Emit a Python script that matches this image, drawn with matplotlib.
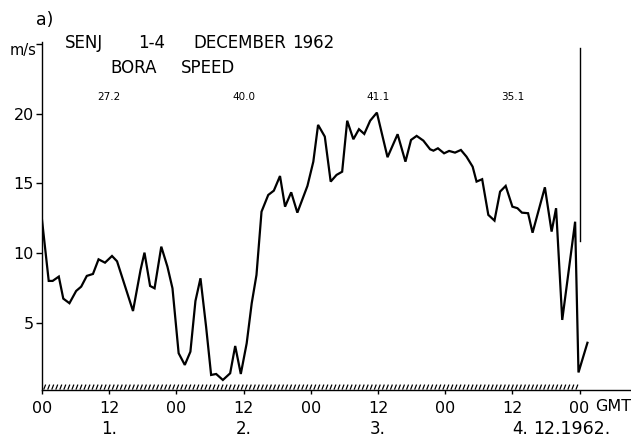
import numpy as np
import matplotlib.pyplot as plt
from matplotlib.collections import LineCollection

# Hourly wind speed at Senj, 1-4 December 1962 (hours from 00 GMT on the 1st)
hours = [0.0, 1.2, 1.9, 3.0, 3.8, 4.9, 6.1, 7.0, 8.0, 9.1, 10.1, 11.25, 12.5, 13.4,
         16.25, 17.6, 18.3, 19.3, 20.1, 21.3, 22.4, 23.3, 24.4, 25.5, 26.5, 27.4,
         28.3, 29.3, 30.2, 31.1, 32.3, 33.6, 34.5, 35.5, 36.55, 37.45, 38.3, 39.2,
         40.4, 41.4, 42.5, 43.4, 44.5, 45.6, 47.4, 48.45, 49.3, 50.5, 51.55, 52.6,
         53.6, 54.5, 55.6, 56.6, 57.55, 58.6, 59.8, 61.7, 63.5, 64.9, 65.9, 66.9,
         68.1, 69.3, 69.9, 70.7, 71.8, 72.7, 73.75, 74.8, 75.8, 76.9, 77.6, 78.6,
         79.7, 80.8, 81.8, 82.8, 84.0, 84.9, 85.7, 86.8, 87.6, 89.8, 91.0, 91.8,
         92.9, 95.2, 95.8, 97.4]
speed = [12.38, 8.00, 8.00, 8.31, 6.73, 6.40, 7.28, 7.59, 8.36, 8.50, 9.55, 9.31, 9.79, 9.41,
         5.84, 8.79, 10.03, 7.64, 7.47, 10.46, 9.02, 7.47, 2.81, 1.97, 2.92, 6.56,
         8.19, 4.72, 1.25, 1.32, 0.89, 1.37, 3.33, 1.32, 3.52, 6.40, 8.43, 12.97,
         14.17, 14.48, 15.53, 13.33, 14.36, 12.90, 14.82, 16.56, 19.20, 18.36, 15.13, 15.61,
         15.84, 19.50, 18.17, 18.89, 18.55, 19.50, 20.08, 16.88, 18.53, 16.56, 18.12, 18.41,
         18.07, 17.45, 17.35, 17.52, 17.16, 17.33, 17.21, 17.40, 16.92, 16.20, 15.13, 15.30,
         12.74, 12.33, 14.41, 14.82, 13.33, 13.22, 12.90, 12.86, 11.46, 14.72, 11.54, 13.22,
         5.20, 12.25, 1.43, 3.56]

# daily maximum gusts (m/s), written above each day
gust_hours = [12, 36, 60, 84]
gust_labels = ['27.2', '40.0', '41.1', '35.1']

tick_hours = [0, 12, 24, 36, 48, 60, 72, 84, 96]
tick_labels = ['00', '12', '00', '12', '00', '12', '00', '12', '00']
day_hours = [12, 36, 60]
day_labels = ['1.', '2.', '3.']

plt.rcParams['font.family'] = 'DejaVu Sans'

fig = plt.figure(figsize=(6.31, 4.37), dpi=100)
ax = fig.add_axes([42 / 631, 47 / 437, 588 / 631, 348 / 437])
ax.set_xlim(0, 105)
ax.set_ylim(0.17, 25.15)

ax.plot(hours, speed, color='black', linewidth=1.6, solid_joinstyle='miter')

# end of record marker
ax.plot([96, 96], [10.9, 24.7], color='black', linewidth=1.0)

# hatched ground line under the first four days
hx = np.arange(0.3, 96, 0.72)
segs = [[(h, 0.2), (h + 0.35, 0.56)] for h in hx]
ax.add_collection(LineCollection(segs, colors='black', linewidths=0.9))

for s in ['top', 'right']:
    ax.spines[s].set_visible(False)
ax.spines['left'].set_linewidth(1.0)
ax.spines['bottom'].set_linewidth(1.0)

ax.set_yticks([5, 10, 15, 20, 25])
ax.set_yticklabels(['5', '10', '15', '20', ''])
ax.tick_params(axis='y', direction='out', length=4, width=1, pad=2, labelsize=11.5)
ax.set_xticks(tick_hours)
ax.set_xticklabels(tick_labels)
ax.tick_params(axis='x', direction='out', length=3, width=1, pad=5, labelsize=11.5)

for h, t in zip(gust_hours, gust_labels):
    ax.text(h, 21.2, t, ha='center', va='center', fontsize=7.5)

for h, t in zip(day_hours, day_labels):
    ax.text(h, -2.65, t, ha='center', va='center', fontsize=12, clip_on=False)
ax.text(85.3, -2.65, '4.', ha='center', va='center', fontsize=12, clip_on=False)
ax.text(87.7, -2.65, '12.1962.', ha='left', va='center', fontsize=12.5, clip_on=False)
ax.text(98.8, -1.05, 'GMT', ha='left', va='center', fontsize=11.5, clip_on=False)

fig.text(36 / 631, 1 - 20 / 437, 'a)', ha='left', va='center', fontsize=12.5)
fig.text(23 / 631, 1 - 50 / 437, 'm/s', ha='center', va='center', fontsize=10.5)

# title words spaced out as in the lettering
fig.text(65 / 631, 1 - 43 / 437, 'SENJ', ha='left', va='center', fontsize=12)
fig.text(138 / 631, 1 - 43 / 437, '1-4', ha='left', va='center', fontsize=12)
fig.text(193 / 631, 1 - 43 / 437, 'DECEMBER', ha='left', va='center', fontsize=12)
fig.text(292 / 631, 1 - 43 / 437, '1962', ha='left', va='center', fontsize=12)
fig.text(110 / 631, 1 - 68 / 437, 'BORA', ha='left', va='center', fontsize=12)
fig.text(181 / 631, 1 - 68 / 437, 'SPEED', ha='left', va='center', fontsize=12)

fig.savefig('out.png', dpi=100)
